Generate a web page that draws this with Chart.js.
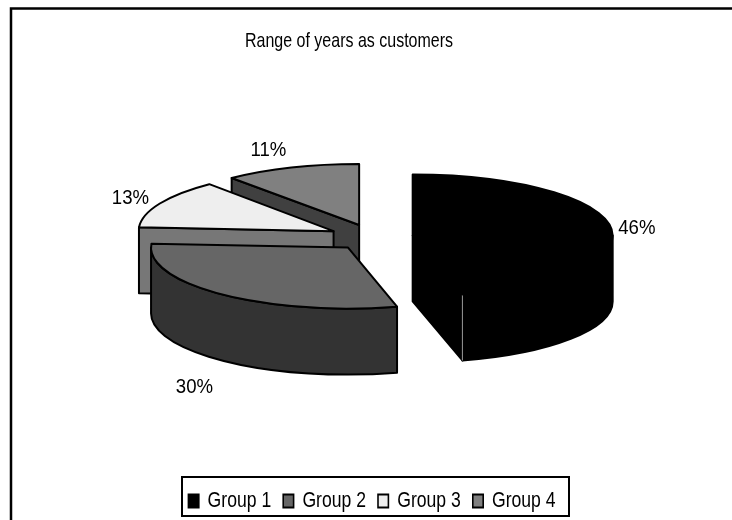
<!DOCTYPE html>
<html>
<head>
<meta charset="utf-8">
<style>
  html, body { margin: 0; padding: 0; background: #fff; }
  #wrap { position: relative; width: 732px; height: 520px; overflow: hidden; }
</style>
<script src="https://cdn.jsdelivr.net/npm/chart.js@4"></script>
</head>
<body>
<div id="wrap"><canvas id="chart" width="732" height="520"></canvas></div>
<script>
'use strict';

const categories = ['Group 1', 'Group 2', 'Group 3', 'Group 4'];
const shares = [46, 30, 13, 11];
const topColors = ['#000000', '#666666', '#eeeeee', '#808080'];
const sideColors = ['#000000', '#333333', '#777777', '#404040'];
const depthEdgeColors = ['#999999', '#000000', '#000000', '#000000'];
const titleText = 'Range of years as customers';

const FONT = '"Liberation Sans", Arial, sans-serif';
const TILT = 0.305;       // ry / rx of the pie's ellipse
const DEPTH = 66;
const PIE_Y = 237;
// the reference text is tall and narrow
const TITLE_SQUEEZE = 0.762;
const LEGEND_SQUEEZE = 0.8;
// back to front
const paintOrder = [3, 2, 0, 1];
// the original's perspective pulls slices about unevenly, so one explode value won't do
const explodeX = [42, 36, 42, 35];
const explodeY = [42, 45, 42, 42];
const radiusScale = [1, 0.985, 0.975, 1];
// where each % label sits, relative to its slice's apex
const labelRadius = [226, 241, 228, 268];
const labelDrop = [2, 83, -1, 2];

function apexOf(arc, i) {
  const mid = (arc.startAngle + arc.endAngle) / 2;
  return {
    x: arc.x + Math.cos(mid) * explodeX[i],
    y: PIE_Y + Math.sin(mid) * explodeY[i] * TILT,
    mid: mid
  };
}

function paintSlice(ctx, arc, i) {
  const p = apexOf(arc, i);
  const rx = arc.outerRadius * radiusScale[i], ry = arc.outerRadius * TILT;
  const a0 = arc.startAngle, a1 = arc.endAngle;
  const px = a => p.x + Math.cos(a) * rx;
  const py = a => p.y + Math.sin(a) * ry;

  ctx.lineJoin = 'round';
  ctx.lineWidth = 2;
  ctx.strokeStyle = '#000';
  ctx.fillStyle = sideColors[i];

  // cut faces that turn towards the viewer
  for (const a of [a0, a1]) {
    const normal = a === a0 ? a - Math.PI / 2 : a + Math.PI / 2;
    if (Math.sin(normal) < 0.001) continue;
    ctx.beginPath();
    ctx.moveTo(p.x, p.y);
    ctx.lineTo(px(a), py(a));
    ctx.lineTo(px(a), py(a) + DEPTH);
    ctx.lineTo(p.x, p.y + DEPTH);
    ctx.closePath();
    ctx.fill();
    ctx.stroke();
  }

  // outer wall, front half of the ellipse only (angles run -90deg to 270deg)
  const s = Math.max(a0, 0), e = Math.min(a1, Math.PI);
  if (e > s) {
    ctx.beginPath();
    ctx.ellipse(p.x, p.y, rx, ry, 0, s, e);
    ctx.ellipse(p.x, p.y + DEPTH, rx, ry, 0, e, s, true);
    ctx.closePath();
    ctx.fill();
    ctx.stroke();
  }

  // edge where cut face meets wall
  if (a1 > 0 && a1 < Math.PI) {
    ctx.save();
    ctx.lineWidth = 1;
    ctx.strokeStyle = depthEdgeColors[i];
    ctx.beginPath();
    ctx.moveTo(px(a1), py(a1));
    ctx.lineTo(px(a1), py(a1) + DEPTH);
    ctx.stroke();
    ctx.restore();
  }

  // top
  ctx.fillStyle = topColors[i];
  ctx.beginPath();
  ctx.moveTo(p.x, p.y);
  ctx.ellipse(p.x, p.y, rx, ry, 0, a0, a1);
  ctx.closePath();
  ctx.fill();
  ctx.stroke();
}

const pie3d = {
  id: 'pie3d',
  beforeDatasetsDraw(chart) {
    const ctx = chart.ctx;
    const arcs = chart.getDatasetMeta(0).data;
    ctx.save();
    for (const i of paintOrder) paintSlice(ctx, arcs[i], i);

    ctx.fillStyle = '#000';
    ctx.font = '20px ' + FONT;
    ctx.textAlign = 'center';
    ctx.textBaseline = 'middle';
    arcs.forEach((arc, i) => {
      const p = apexOf(arc, i);
      const x = p.x + Math.cos(p.mid) * labelRadius[i];
      const y = p.y + Math.sin(p.mid) * labelRadius[i] * TILT + labelDrop[i];
      ctx.save();
      ctx.translate(x, y);
      ctx.scale(0.93, 1);
      ctx.fillText(shares[i] + '%', 0, 0);
      ctx.restore();
    });
    ctx.restore();
    return false;
  }
};

function squeezeDraw(box, ctx, cx, dy, squeeze) {
  const draw = box.draw.bind(box);
  box.draw = function(area) {
    ctx.save();
    ctx.translate(cx, dy);
    ctx.scale(squeeze, 1);
    ctx.translate(-cx, 0);
    draw(area);
    ctx.restore();
  };
}

const frames = {
  id: 'frames',
  afterLayout(chart) {
    // title is centred on the frame, not on the pie
    chart.titleBlock.left -= 22;
    chart.titleBlock.right -= 22;
    if (!chart.$squeezed) {
      squeezeDraw(chart.titleBlock, chart.ctx, 349, 0, TITLE_SQUEEZE);
      squeezeDraw(chart.legend, chart.ctx, 376, 2, LEGEND_SQUEEZE);
      chart.$squeezed = true;
    }
  },
  afterDraw(chart) {
    const ctx = chart.ctx;
    ctx.save();
    ctx.strokeStyle = '#000';
    ctx.lineWidth = 2.5;
    // frame runs off the right and bottom of the picture
    ctx.beginPath();
    ctx.moveTo(11, 530);
    ctx.lineTo(11, 8.5);
    ctx.lineTo(740, 8.5);
    ctx.stroke();
    ctx.lineWidth = 2;
    ctx.strokeRect(182, 477, 387, 39);
    ctx.restore();
  }
};

new Chart(document.getElementById('chart'), {
  type: 'pie',
  data: {
    labels: categories,
    datasets: [{ data: shares, backgroundColor: topColors, borderColor: '#000', borderWidth: 0 }]
  },
  options: {
    responsive: false,
    animation: false,
    radius: 200,
    layout: { padding: { left: 10, top: 29, bottom: 0 } },
    plugins: {
      tooltip: { enabled: false },
      title: {
        display: true,
        text: titleText,
        color: '#000',
        font: { family: FONT, size: 21, weight: 'normal' },
        padding: { top: 0, bottom: 0 }
      },
      legend: {
        position: 'bottom',
        onClick: null,
        labels: {
          color: '#000',
          boxWidth: 13,
          boxHeight: 13,
          padding: 15,
          font: { family: FONT, size: 22 },
          generateLabels: () => categories.map((c, i) => ({
            text: c,
            fillStyle: topColors[i],
            strokeStyle: '#000',
            lineWidth: 2,
            index: i
          }))
        }
      }
    }
  },
  plugins: [pie3d, frames]
});
</script>
</body>
</html>
